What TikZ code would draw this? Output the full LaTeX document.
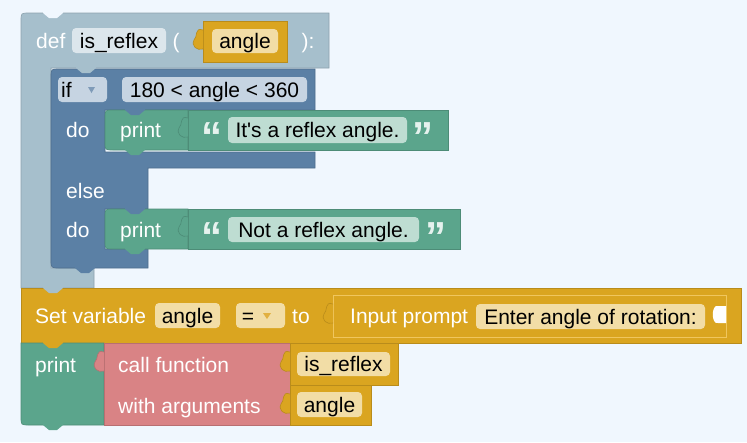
\documentclass[tikz,border=0pt]{standalone}
\usepackage{fontspec}
\usepackage{xcolor}
\usepackage{tikz}
\newfontfamily\blkfam{Liberation Sans}
\definecolor{bgc}{HTML}{F0F7FE}
\definecolor{defc}{HTML}{A6BFCC}
\definecolor{deffld}{HTML}{DCE6EC}
\definecolor{ifc}{HTML}{5B80A5}
\definecolor{iffld}{HTML}{C6D4E2}
\definecolor{ifarr}{HTML}{7F9BB8}
\definecolor{prc}{HTML}{5BA58C}
\definecolor{txtfld}{HTML}{BEDDD2}
\definecolor{quotec}{HTML}{E6F2EE}
\definecolor{yc}{HTML}{DAA520}
\definecolor{yfld}{HTML}{F2DDA6}
\definecolor{yline}{HTML}{F0C65E}
\definecolor{yarr}{HTML}{E2B040}
\definecolor{pkc}{HTML}{D98385}

\begin{document}
\begin{tikzpicture}[x=1pt, y=-1pt,
  blk/.style={fill=#1, draw=#1!85!black, line width=0.6pt},
  fld/.style={fill=#1, rounded corners=4pt},
  lbl/.style={text=white, inner sep=0pt, text height=15pt, text depth=0pt,
    font=\blkfam\fontsize{21}{25}\selectfont},
  val/.style={lbl, text=black},
  quot/.style={inner sep=0pt, anchor=base, text=quotec,
    font=\blkfam\bfseries\fontsize{42}{42}\selectfont}]
  \useasboundingbox (0,0) rectangle (747,442);
  \fill[bgc] (0,0) rectangle (747,442);

  \filldraw[blk=defc] (94,288) -- (21,288) -- (21,21) .. controls (21,13) .. (29,13)
    -- (329,13) -- (329,68) -- (51,68) -- (51,268) -- (94,268) -- cycle;
  \fill[bgc] (43,12) -- (43,13) -- ++(6,5) -- ++(8,0) -- ++(6,-5) -- (63,12) -- cycle;
  \filldraw[blk=ifc] (51,77) .. controls (51,69) .. (59,69) -- (315,69) -- (315,110)
    -- (105,110) -- (105,152) -- (315,152) -- (315,168) -- (148,168) -- (148,209)
    -- (105,209) -- (105,249) -- (148,249) -- (148,268) -- (59,268)
    .. controls (51,268) .. (51,260) -- cycle;
  \foreach \y/\w in {110/448, 209/460} {
    \filldraw[blk=prc] (188,\y) -- (113,\y) .. controls (105,\y) .. (105,\y+8)
      -- (105,\y+32) .. controls (105,\y+40) .. (113,\y+40) -- (188,\y+40) -- cycle;
    \filldraw[blk=prc] (188,\y) rectangle (\w,\y+40);
  }
  \filldraw[blk=yc] (21,288) rectangle (741,343);
  \filldraw[fill=yc, draw=yline, line width=1pt] (333,295) rectangle (726,337);
  \fill[white] (726,306) -- (718,306) .. controls (711,304) and (711,325) .. (718,323)
    -- (726,323) -- cycle;
  \filldraw[blk=prc] (21,343) -- (104,343) -- (104,425) -- (29,425)
    .. controls (21,425) .. (21,417) -- cycle;
  \filldraw[blk=pkc] (104,343) rectangle (290,425);
  \foreach \a/\b/\c/\d in {203/21/287/62, 290/343/398/385, 290/385/371/425} {
    \filldraw[blk=yc] (\a,\b) rectangle (\c,\d);
  }

  \foreach \a/\b/\c/\d/\col in {72/28/166/53/deffld, 212/29/278/53/yfld,
      58/77/107/102/iffld, 122/77/307/102/iffld, 228/117/407/143/txtfld,
      228/217/419/242/txtfld, 155/303/220/328/yfld, 236/303/285/328/yfld,
      476/304/705/329/yfld, 297/352/390/376/yfld, 297/392/362/417/yfld} {
    \fill[fld=\col] (\a,\b) rectangle (\c,\d);
  }
  \fill[ifarr] (88,87) -- (95,87) -- (91.5,93) -- cycle;
  \fill[yarr] (263,313) -- (271,313) -- (267,319) -- cycle;

  \foreach \x/\y/\col in {76/68/defc, 125/110/ifc, 125/150/prc, 125/209/ifc,
      125/249/prc, 75/268/ifc, 43/288/defc, 43/343/yc, 43/425/prc} {
    \fill[\col] (\x,\y-1) -- ++(0,1) -- ++(6,5) -- ++(8,0) -- ++(6,-5) -- ++(0,-1) -- cycle;
  }
  \foreach \x/\y/\col in {203/30/yc, 188/118/prc, 188/217/prc, 333/304/yc,
      104/352/pkc, 290/352/yc, 290/394/yc} {
    \filldraw[blk=\col] (\x,\y) .. controls (\x-9,\y-3) and (\x-5,\y+7) .. (\x-9,\y+10)
      .. controls (\x-12,\y+16) and (\x-6,\y+21) .. (\x,\y+19);
  }

  \node[lbl, anchor=west] (defkw) at (36,40.5) {def};
  \node[val] (fname) at (119,40.5) {is\_reflex};
  \node[lbl] (lpar) at (176,40.5) {(};
  \node[val] (param) at (245,41) {angle};
  \node[lbl] (rpar) at (308,40.5) {):};
  \node[val, anchor=west] (ifkw) at (61,89.5) {if};
  \node[val] (cond) at (214.5,89.5) {180 < angle < 360};
  \node[lbl, anchor=west] (dokwA) at (66,130) {do};
  \node[lbl, anchor=west] (printA) at (120,130) {print};
  \node[quot] (openA) at (211.5,151) {“};
  \node[val] (msgA) at (317.5,130) {It's a reflex angle.};
  \node[quot] (closeA) at (422.5,151) {”};
  \node[lbl, anchor=west] (elsekw) at (66,191) {else};
  \node[lbl, anchor=west] (dokwB) at (66,230) {do};
  \node[lbl, anchor=west] (printB) at (120,229.5) {print};
  \node[quot] (openB) at (211.5,251.5) {“};
  \node[val] (msgB) at (323.5,229.5) {Not a reflex angle.};
  \node[quot] (closeB) at (436,251.5) {”};
  \node[lbl, anchor=west] (setkw) at (35,315.5) {Set variable};
  \node[val] (var) at (187.5,315.5) {angle};
  \node[val] (eq) at (248,315.5) {=};
  \node[lbl, anchor=west] (tokw) at (292,315.5) {to};
  \node[lbl, anchor=west] (promptkw) at (350,316) {Input prompt};
  \node[val] (prompt) at (590.5,316.5) {Enter angle of rotation:};
  \node[lbl, anchor=west] (printC) at (35,365) {print};
  \node[lbl, anchor=west] (callkw) at (118,365) {call function};
  \node[lbl, anchor=west] (argkw) at (118,405.5) {with arguments};
  \node[val] (callee) at (343.5,364) {is\_reflex};
  \node[val] (arg) at (329.5,404.5) {angle};
\end{tikzpicture}
\end{document}
